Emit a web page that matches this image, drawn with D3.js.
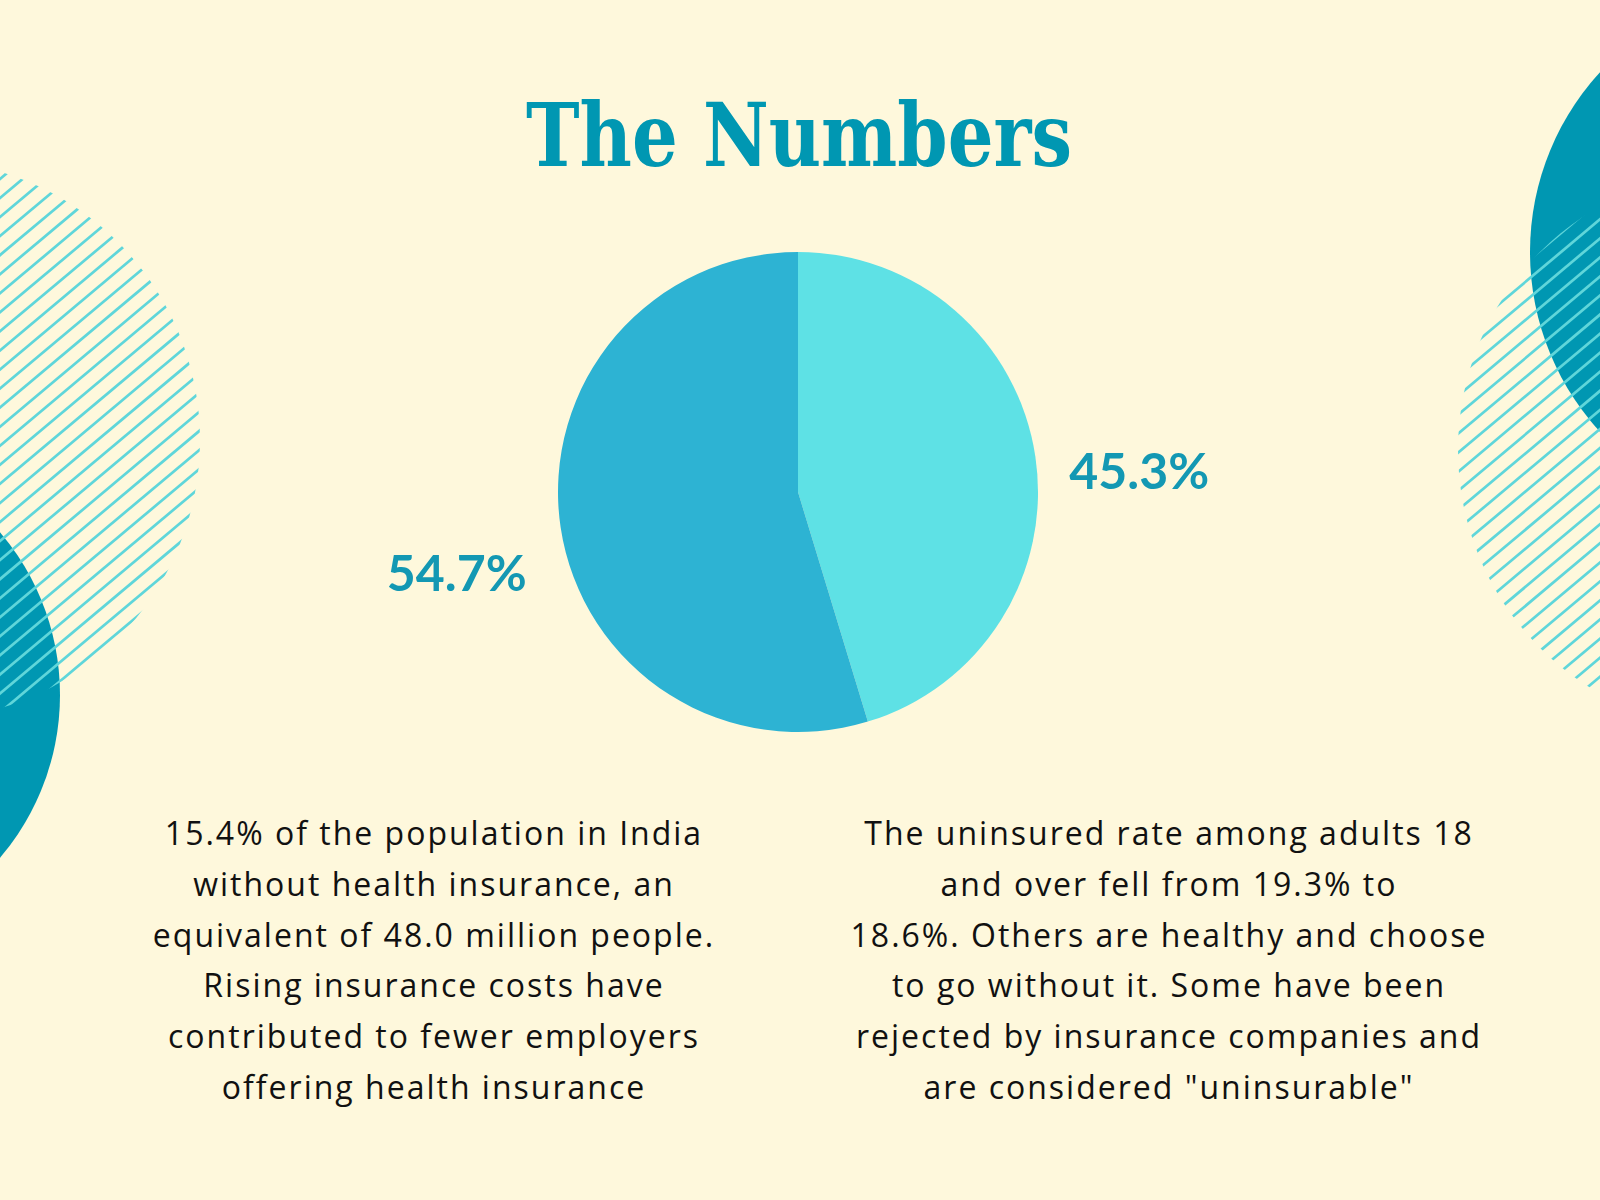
<!DOCTYPE html>
<html>
<head>
<meta charset="utf-8">
<script src="https://cdn.jsdelivr.net/npm/d3@7"></script>
<style>
  html, body { margin: 0; padding: 0; background: #fef8dc; }
  svg { display: block; }
</style>
</head>
<body>
<script>
// pie data
var categories = ['Group A', 'Group B']
var values = [45.3, 54.7]
var labels = ['45.3%', '54.7%']
var colors = ['#5ee1e5', '#2db3d3']

var title = 'The Numbers'
var leftText = [
  '15.4% of the population in India',
  'without health insurance, an',
  'equivalent of 48.0 million people.',
  'Rising insurance costs have',
  'contributed to fewer employers',
  'offering health insurance'
]
var rightText = [
  'The uninsured rate among adults 18',
  'and over fell from 19.3% to',
  '18.6%. Others are healthy and choose',
  'to go without it. Some have been',
  'rejected by insurance companies and',
  'are considered "uninsurable"'
]

var W = 1600, H = 1200
var svg = d3.select('body').append('svg').attr('width', W).attr('height', H)
svg.append('rect').attr('width', W).attr('height', H).attr('fill', '#fef8dc')

var defs = svg.append('defs')

// background decoration: solid circle + striped circle
function decor(id, solid, hatch) {
  svg.append('circle')
    .attr('cx', solid.x).attr('cy', solid.y).attr('r', solid.r)
    .attr('fill', '#0097b2')

  defs.append('clipPath').attr('id', id)
    .append('circle').attr('cx', hatch.x).attr('cy', hatch.y).attr('r', hatch.r)

  var g = svg.append('g').attr('clip-path', 'url(#' + id + ')')
    .append('g')
    .attr('transform', 'rotate(-40,' + hatch.x + ',' + hatch.y + ')')
  g.selectAll('line')
    .data(d3.range(-hatch.r, hatch.r, 14.6))
    .enter()
    .append('line')
    .attr('x1', hatch.x - hatch.r)
    .attr('x2', hatch.x + hatch.r)
    .attr('y1', function(d) { return hatch.y + d })
    .attr('y2', function(d) { return hatch.y + d })
    .attr('stroke', '#5fd6da')
    .attr('stroke-width', 2.7)
}
decor('clipL', {x: -191, y: 695, r: 251}, {x: -80, y: 440, r: 280})
decor('clipR', {x: 1796, y: 252, r: 266}, {x: 1738, y: 450, r: 280})

// title
svg.append('text')
  .attr('x', 799).attr('y', 166)
  .attr('text-anchor', 'middle')
  .attr('font-family', '"DejaVu Serif", serif')
  .attr('font-weight', 'bold')
  .attr('font-size', 88)
  .attr('textLength', 546)
  .attr('lengthAdjust', 'spacingAndGlyphs')
  .attr('fill', '#0097b2')
  .text(title)

// pie
var cx = 798, cy = 492, R = 240
var pie = d3.pie().sort(null).value(function(d) { return d })
var arc = d3.arc().innerRadius(0).outerRadius(R)
var labelArc = d3.arc().innerRadius(345).outerRadius(345)

var pg = svg.append('g').attr('transform', 'translate(' + cx + ',' + cy + ')')
var slices = pie(values)

pg.selectAll('path')
  .data(slices)
  .enter()
  .append('path')
  .attr('d', arc)
  .attr('fill', function(d, i) { return colors[i] })

pg.selectAll('text')
  .data(slices)
  .enter()
  .append('text')
  .attr('x', function(d) { return labelArc.centroid(d)[0] })
  .attr('y', function(d) { return labelArc.centroid(d)[1] + 48 })
  .attr('text-anchor', 'middle')
  .attr('font-family', 'Lato, sans-serif')
  .attr('font-weight', 'bold')
  .attr('font-size', 50)
  .attr('fill', '#1398b3')
  .text(function(d, i) { return labels[i] })

// body text
function para(lines, x) {
  svg.append('g').selectAll('text')
    .data(lines)
    .enter()
    .append('text')
    .attr('x', x)
    .attr('y', function(d, i) { return 845 + i * 50.8 })
    .attr('text-anchor', 'middle')
    .attr('font-family', '"Open Sans", sans-serif')
    .attr('font-size', 32)
    .attr('letter-spacing', 2)
    .attr('fill', '#111')
    .text(function(d) { return d })
}
para(leftText, 434)
para(rightText, 1169)
</script>
</body>
</html>
